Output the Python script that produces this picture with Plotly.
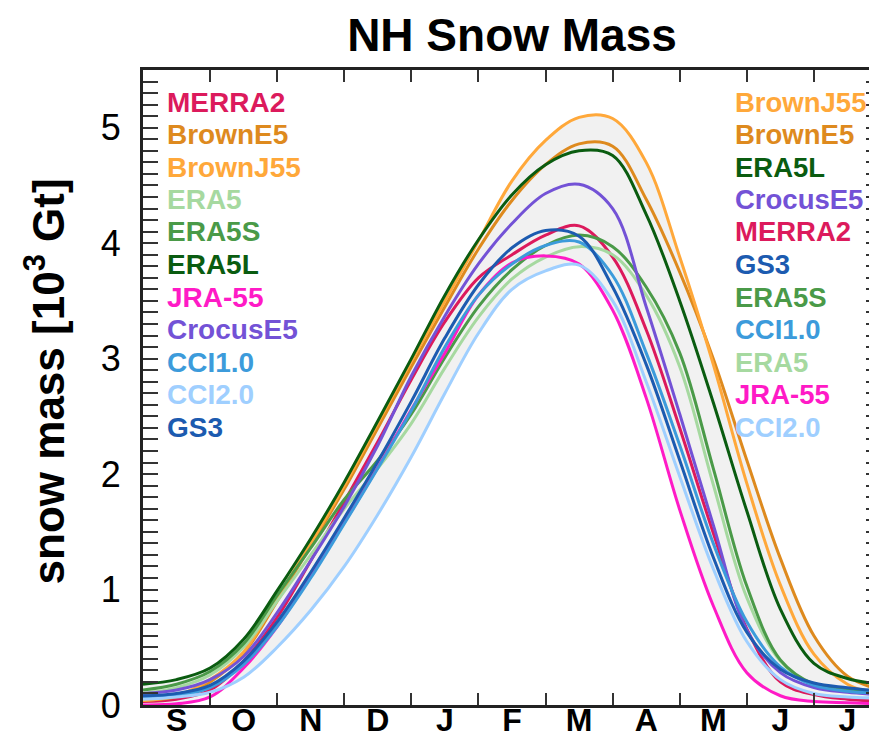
import numpy as np
import plotly.graph_objects as go

# months since 1 September (0 = Sep 1, 11 = Aug 1)
months = [0, 0.5, 1, 1.5, 2, 2.5, 3, 3.5, 4, 4.5, 5, 5.5, 6, 6.5, 7, 7.5, 8, 8.5, 9, 9.5, 10, 10.5, 11]
month_labels = ["S", "O", "N", "D", "J", "F", "M", "A", "M", "J", "J"]
month_label_pos = [0.5, 1.5, 2.5, 3.5, 4.5, 5.5, 6.5, 7.5, 8.5, 9.5, 10.5]
month_bounds = [1, 2, 3, 4, 5, 6, 7, 8, 9, 10]
y_major = [0, 1, 2, 3, 4, 5]

# snow mass [10^3 Gt]
merra2 =   [0.03, 0.05, 0.13, 0.38, 0.76, 1.25, 1.76, 2.28, 2.82, 3.32, 3.70, 3.90, 4.07, 4.15, 3.88, 3.25, 2.40, 1.49, 0.66, 0.20, 0.09, 0.05, 0.03]
browne5 =  [0.04, 0.07, 0.20, 0.45, 0.90, 1.38, 1.87, 2.40, 2.93, 3.45, 3.95, 4.37, 4.68, 4.86, 4.84, 4.38, 3.75, 3.00, 2.12, 1.27, 0.60, 0.25, 0.13]
brownj55 = [0.04, 0.08, 0.22, 0.46, 0.93, 1.40, 1.90, 2.44, 2.98, 3.50, 4.02, 4.54, 4.89, 5.09, 5.08, 4.70, 3.88, 2.95, 1.92, 1.04, 0.44, 0.18, 0.09]
era5 =     [0.10, 0.15, 0.26, 0.50, 0.90, 1.30, 1.70, 2.05, 2.44, 2.92, 3.36, 3.69, 3.88, 3.97, 3.90, 3.55, 2.93, 1.91, 0.93, 0.38, 0.17, 0.12, 0.09]
era5s =    [0.13, 0.18, 0.29, 0.53, 0.95, 1.36, 1.78, 2.12, 2.52, 3.01, 3.45, 3.77, 3.98, 4.07, 3.97, 3.62, 3.05, 2.05, 1.03, 0.39, 0.18, 0.13, 0.10]
era5l =    [0.18, 0.22, 0.32, 0.57, 0.99, 1.44, 1.93, 2.46, 3.00, 3.55, 4.03, 4.42, 4.68, 4.80, 4.76, 4.25, 3.50, 2.62, 1.68, 0.83, 0.36, 0.23, 0.18]
jra55 =    [0.00, 0.01, 0.07, 0.32, 0.68, 1.12, 1.58, 2.06, 2.56, 3.05, 3.55, 3.83, 3.89, 3.82, 3.42, 2.66, 1.69, 0.86, 0.28, 0.08, 0.03, 0.02, 0.01]
crocuse5 = [0.10, 0.13, 0.22, 0.42, 0.80, 1.25, 1.72, 2.25, 2.85, 3.37, 3.82, 4.17, 4.43, 4.51, 4.30, 3.45, 2.52, 1.56, 0.65, 0.28, 0.15, 0.11, 0.09]
cci10 =    [0.06, 0.08, 0.15, 0.35, 0.68, 1.10, 1.57, 2.05, 2.55, 3.10, 3.55, 3.82, 3.98, 4.01, 3.72, 3.05, 2.25, 1.40, 0.72, 0.33, 0.17, 0.12, 0.10]
cci20 =    [0.05, 0.07, 0.11, 0.24, 0.50, 0.82, 1.20, 1.65, 2.15, 2.70, 3.22, 3.60, 3.76, 3.81, 3.50, 2.80, 1.98, 1.18, 0.55, 0.22, 0.10, 0.07, 0.06]
gs3 =      [0.08, 0.10, 0.17, 0.38, 0.72, 1.15, 1.62, 2.11, 2.63, 3.18, 3.64, 3.96, 4.11, 4.06, 3.62, 2.95, 2.12, 1.28, 0.63, 0.31, 0.19, 0.15, 0.12]

series = [
    ("MERRA2", merra2, "#DC1A5C"),
    ("BrownE5", browne5, "#DE8A1E"),
    ("BrownJ55", brownj55, "#FFA83A"),
    ("ERA5", era5, "#A6D9A0"),
    ("ERA5S", era5s, "#4A9A48"),
    ("ERA5L", era5l, "#0A5C10"),
    ("JRA-55", jra55, "#FF1AC6"),
    ("CrocusE5", crocuse5, "#7352D6"),
    ("CCI1.0", cci10, "#3C9BDB"),
    ("CCI2.0", cci20, "#9FCFFF"),
    ("GS3", gs3, "#1C5BB0"),
]
left_order = ["MERRA2", "BrownE5", "BrownJ55", "ERA5", "ERA5S", "ERA5L", "JRA-55", "CrocusE5", "CCI1.0", "CCI2.0", "GS3"]
right_order = ["BrownJ55", "BrownE5", "ERA5L", "CrocusE5", "MERRA2", "GS3", "ERA5S", "CCI1.0", "ERA5", "JRA-55", "CCI2.0"]
colors = {n: c for n, _, c in series}

allv = np.array([s for _, s, _ in series])
env_max = allv.max(axis=0)
env_min = allv.min(axis=0)

FONT = "Liberation Sans, Arial, Helvetica, sans-serif"
W, H = 877, 743
L, R, T, B = 135, 1, 62, 46
PW, PH = W - L - R, H - T - B

fig = go.Figure()
fig.add_trace(go.Scatter(x=months, y=env_max, mode="lines", line=dict(width=0, shape="spline", color="rgba(0,0,0,0)"),
                         showlegend=False, hoverinfo="skip"))
fig.add_trace(go.Scatter(x=months, y=env_min, mode="lines", line=dict(width=0, shape="spline", color="rgba(0,0,0,0)"),
                         fill="tonexty", fillcolor="#F1F1F1", showlegend=False, hoverinfo="skip"))
for name, vals, col in series:
    fig.add_trace(go.Scatter(x=months, y=vals, mode="lines", name=name,
                             line=dict(color=col, width=3, shape="spline"), showlegend=False))
# invisible trace to anchor the label axis
fig.add_trace(go.Scatter(x=[0, 11], y=[0, 0], xaxis="x2", yaxis="y", mode="lines",
                         line=dict(width=0, color="rgba(0,0,0,0)"), showlegend=False, hoverinfo="skip"))

def px2paper(px, py):
    return (px - L) / PW, (H - B - py) / PH

ann = []
row0, dy = 94, 32.5
for i, n in enumerate(left_order):
    x, y = px2paper(157, row0 + i * dy)
    ann.append(dict(x=x, y=y, xref="paper", yref="paper", xanchor="left", yanchor="middle",
                    text="<b>%s</b>" % n, showarrow=False, font=dict(family=FONT, size=28, color=colors[n])))
for i, n in enumerate(right_order):
    x, y = px2paper(727, row0 + i * dy)
    ann.append(dict(x=x, y=y, xref="paper", yref="paper", xanchor="left", yanchor="middle",
                    text="<b>%s</b>" % n, showarrow=False, font=dict(family=FONT, size=27.5, color=colors[n])))
x, y = px2paper(37, 373)
ann.append(dict(x=x, y=y, xref="paper", yref="paper", xanchor="center", yanchor="middle", textangle=-90,
                text="<b>snow mass [10<sup>3</sup> Gt]</b>", showarrow=False, font=dict(family=FONT, size=44, color="black")))

fig.update_layout(
    width=W, height=H,
    margin=dict(l=L, r=R, t=T, b=B),
    paper_bgcolor="white", plot_bgcolor="white",
    title=dict(text="<b>NH Snow Mass</b>", x=0.5, xref="paper", xanchor="center",
               y=1 - 27 / H, yref="container", yanchor="middle",
               font=dict(family=FONT, size=46, color="black")),
    annotations=ann,
    xaxis=dict(range=[0, 11], tickmode="array", tickvals=month_bounds, showticklabels=False,
               ticks="inside", ticklen=12, tickwidth=2, tickcolor="#333", showgrid=False, zeroline=False,
               showline=True, linecolor="#222", linewidth=3, mirror="allticks"),
    xaxis2=dict(range=[0, 11], overlaying="x", side="bottom", anchor="y", tickmode="array",
                tickvals=month_label_pos, ticktext=month_labels, ticks="", showline=False,
                showgrid=False, zeroline=False,
                tickfont=dict(family=FONT, size=32, color="black", weight="bold"), ticklabelstandoff=-7),
    yaxis=dict(range=[0, 5.5], tickmode="array", tickvals=y_major,
               ticks="inside", ticklen=15, tickwidth=2, tickcolor="#333", showgrid=False, zeroline=False,
               showline=True, linecolor="#222", linewidth=3, mirror="allticks",
               tickfont=dict(family=FONT, size=36, color="black"), ticklabelstandoff=12,
               minor=dict(dtick=0.1, ticks="inside", ticklen=8, tickwidth=2, tickcolor="#333", showgrid=False)),
)

fig.write_html("out.html")
